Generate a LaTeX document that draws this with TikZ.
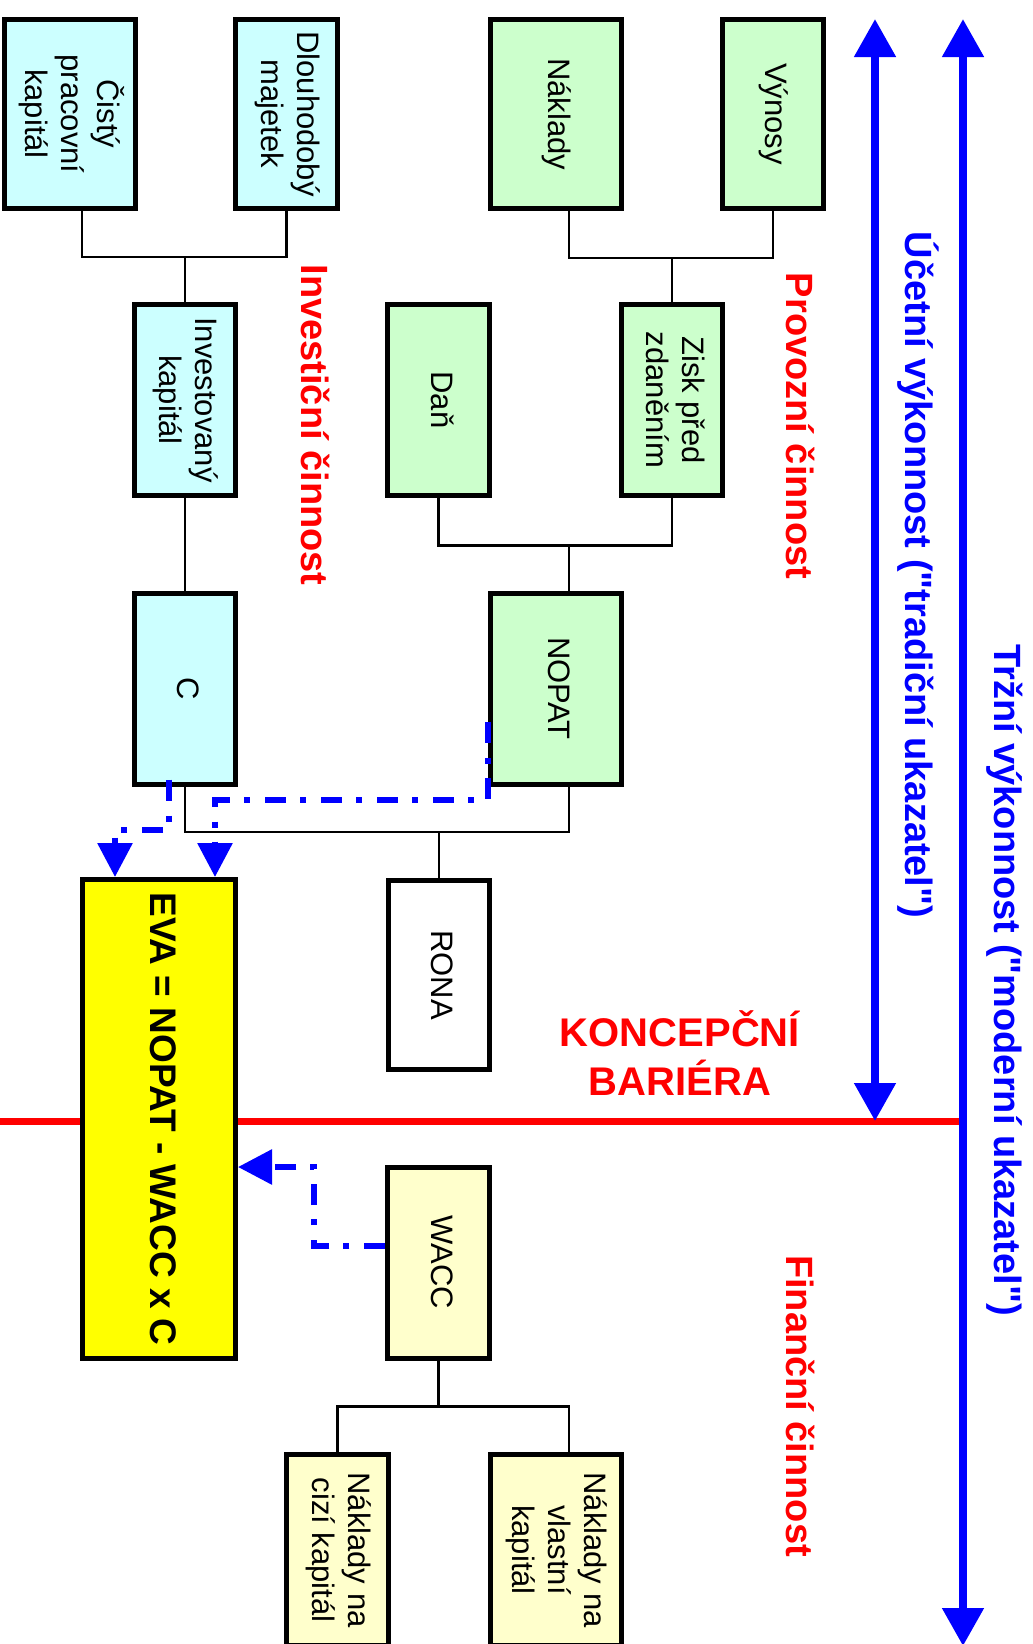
\documentclass[tikz,border=0pt]{standalone}
\usepackage{fontspec}
\setmainfont{Liberation Sans}
\newfontfamily\rovna{Liberation Sans}
\usepackage{graphicx}
\usetikzlibrary{arrows.meta,calc}

\definecolor{modra}{RGB}{0,0,255}
\definecolor{cervena}{RGB}{255,0,0}
\definecolor{tyrkys}{RGB}{204,255,255}
\definecolor{zelena}{RGB}{204,255,204}
\definecolor{krem}{RGB}{255,255,204}
\definecolor{zluta}{RGB}{255,255,0}

\newcommand{\svisle}[1]{\rotatebox{-90}{\begin{tabular}{@{}c@{}}#1\end{tabular}}}
\newcommand{\uvoz}{{\rovna\symbol{34}}}

\begin{document}
\begin{tikzpicture}[x=1pt,y=1pt,yscale=-1,
  ramec/.style={draw, line width=5pt, inner sep=0pt, font=\fontsize{31}{36}\selectfont},
  uzka/.style={ramec, minimum width=101.5pt, minimum height=191pt},
  siroka/.style={ramec, minimum width=131pt, minimum height=191pt},
  spoj/.style={draw, line width=2.5pt},
  tok/.style={draw=modra, line width=6pt, dash pattern=on 21pt off 15pt on 6pt off 14pt, -{Triangle[width=34pt,length=34pt]}},
  osa/.style={draw=modra, line width=8pt, {Triangle[width=40pt,length=38pt]}-{Triangle[width=40pt,length=38pt]}},
  popis/.style={rotate=-90, inner sep=0pt, font=\fontsize{38}{44}\selectfont\bfseries}]

\clip (0,0) rectangle (1033,1644);

% koncepcni bariera
\draw[cervena, line width=7pt] (0,1121) -- (963,1121);

% investicni a provozni cinnost
\node[siroka, fill=tyrkys, minimum height=189pt] (cisty) at (69.5,114) {\svisle{Čistý\\pracovní\\kapitál}};
\node[uzka, fill=tyrkys, minimum height=189pt] (dlouh) at (286.5,114) {\svisle{Dlouhodobý\\majetek}};
\node[siroka, fill=zelena, minimum height=189pt] (naklady) at (555.5,114) {\svisle{Náklady}};
\node[uzka, fill=zelena, minimum height=189pt] (vynosy) at (773,114) {\svisle{Výnosy}};
\node[uzka, fill=tyrkys] (invest) at (185,400) {\svisle{Investovaný\\kapitál}};
\node[uzka, fill=zelena] (dan) at (438.5,400) {\svisle{Daň}};
\node[uzka, fill=zelena] (zisk) at (672,400) {\svisle{Zisk před\\zdaněním}};
\node[uzka, fill=tyrkys] (cnode) at (185,688.5) {\svisle{C}};
\node[siroka, fill=zelena] (nopat) at (555.5,688.5) {\svisle{NOPAT}};
\node[uzka, fill=white, minimum height=189pt] (rona) at (439,975) {\svisle{RONA}};
\node[ramec, fill=zluta, minimum width=153pt, minimum height=479pt, font=\fontsize{37}{42}\selectfont\bfseries] (eva) at (159,1119) {\svisle{EVA = NOPAT - WACC x C}};

% financni cinnost
\node[uzka, fill=krem] (wacc) at (438.5,1262.5) {\svisle{WACC}};
\node[uzka, fill=krem] (ncizi) at (337.5,1550) {\svisle{Náklady na\\cizí kapitál}};
\node[siroka, fill=krem] (nvlast) at (555.5,1550) {\svisle{Náklady na\\vlastní\\kapitál}};

% spojnice
\draw[spoj] (invest.north) -- ++(0,-45) coordinate (j1);
\draw[spoj] ([xshift=12.5pt]cisty.south) |- (j1) -| (dlouh.south);
\draw[spoj] (zisk.north) -- ++(0,-44) coordinate (j2);
\draw[spoj] ([xshift=13.5pt]naklady.south) |- (j2) -| (vynosy.south);
\draw[spoj] ([xshift=13.5pt]nopat.north) -- ++(0,-45) coordinate (j3);
\draw[spoj] (dan.south) |- (j3) -| (zisk.south);
\draw[spoj] (invest.south) -- (cnode.north);
\draw[spoj] (rona.north) -- ++(0,-46) coordinate (j4);
\draw[spoj] (cnode.south) |- (j4) -| ([xshift=13.5pt]nopat.south);
\draw[spoj] (wacc.south) -- ++(0,46) coordinate (j5);
\draw[spoj] (ncizi.north) |- (j5) -| ([xshift=13.5pt]nvlast.north);

% toky do EVA
\draw[tok] ($(nopat.west)+(0,33.5)$) -- ++(0,78) -| ($(eva.north)+(56,0)$);
\draw[tok] ($(cnode.south)+(-16,-7)$) -- ++(0,50) -| ($(eva.north)+(-44,0)$);
\draw[tok] ($(wacc.west)+(0,-16.5)$) -- ++(-71,0) |- ($(eva.east)+(0,48)$);

% osy vykonnosti
\draw[osa] (875,19) -- (875,1121);
\draw[osa] (963,19) -- (963,1646);

% popisky
\node[popis, text=cervena] (invlbl) at (315,425) {Investiční činnost};
\node[popis, text=cervena] (provlbl) at (800,426) {Provozní činnost};
\node[popis, text=cervena] (finlbl) at (800,1406) {Finanční činnost};
\node[popis, text=modra] (uclbl) at (918,575) {Účetní výkonnost (\uvoz tradiční ukazatel\uvoz)};
\node[popis, text=modra] (trlbl) at (1005,980) {Tržní výkonnost (\uvoz moderní ukazatel\uvoz)};
\node[text=cervena, align=center, inner sep=0pt, font=\fontsize{40}{49}\selectfont\bfseries] (bariera) at (680,1053) {KONCEPČNÍ\\BARIÉRA};

\end{tikzpicture}
\end{document}
